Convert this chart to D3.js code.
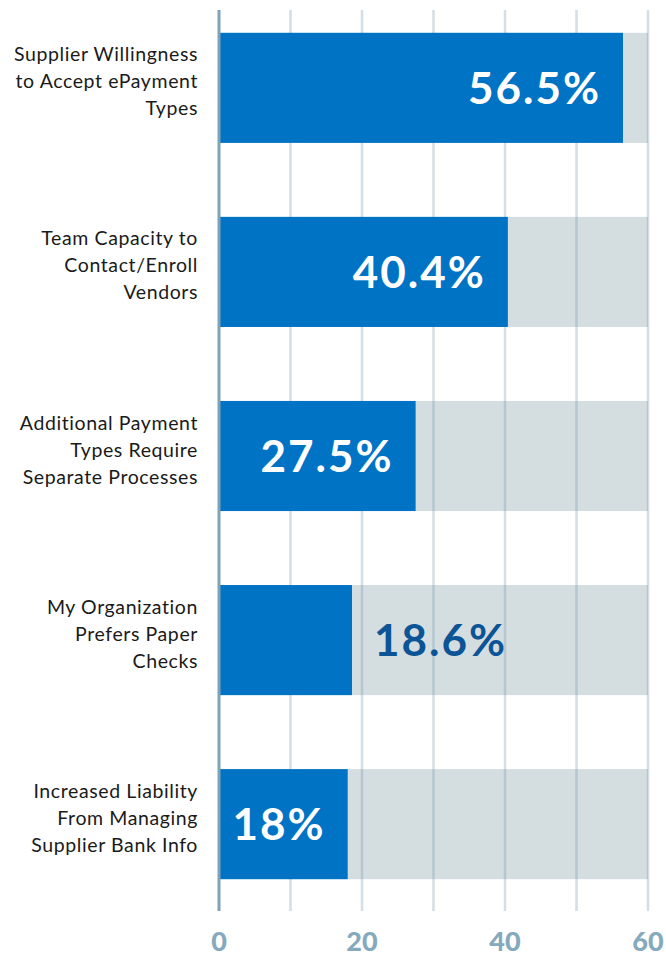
<!DOCTYPE html>
<html><head><meta charset="utf-8">
<script src="https://cdn.jsdelivr.net/npm/d3@7"></script>
<style>body{margin:0;background:#fff}</style>
</head><body>
<svg id="c" width="666" height="956"></svg>
<script>
const categories = [
  ["Supplier Willingness","to Accept ePayment","Types"],
  ["Team Capacity to","Contact/Enroll","Vendors"],
  ["Additional Payment","Types Require","Separate Processes"],
  ["My Organization","Prefers Paper","Checks"],
  ["Increased Liability","From Managing","Supplier Bank Info"]
];
const values = [56.5, 40.4, 27.5, 18.6, 18];
const valueLabels = ["56.5%","40.4%","27.5%","18.6%","18%"];
const labelInside = [true, true, true, false, true];
const maxValue = 60;
const tickValues = [0, 20, 40, 60];
const gridValues = [0,10,20,30,40,50,60];

const svg = d3.select("#c");
const x = d3.scaleLinear().domain([0, maxValue]).range([219, 648]);
const y = d3.scaleBand().domain(d3.range(values.length)).range([-4, 916]).paddingInner(0.402).paddingOuter(0.2);

// background bars
svg.selectAll("rect.bg").data(values).join("rect")
  .attr("x", x(0)).attr("y", (d,i)=>y(i)).attr("width", x(maxValue)-x(0)).attr("height", y.bandwidth())
  .attr("fill", "#d4dde0");

// gridlines
svg.selectAll("line.grid").data(gridValues.slice(1)).join("line")
  .attr("x1", d=>x(d)).attr("x2", d=>x(d)).attr("y1", 10).attr("y2", 911)
  .attr("stroke", "rgba(120,155,178,0.33)").attr("stroke-width", 2.5);

// value bars
svg.selectAll("rect.bar").data(values).join("rect")
  .attr("x", x(0)).attr("y", (d,i)=>y(i)).attr("width", d=>x(d)-x(0)).attr("height", y.bandwidth())
  .attr("fill", "#0073c4");

// axis line
svg.append("line").attr("x1", x(0)).attr("x2", x(0)).attr("y1", 10).attr("y2", 911)
  .attr("stroke", "#7ea3b9").attr("stroke-width", 3);

// value labels
svg.selectAll("text.val").data(values).join("text")
  .attr("x", (d,i)=> labelInside[i] ? x(d)-22 : x(d)+22)
  .attr("y", (d,i)=>y(i)+y.bandwidth()/2+16)
  .attr("text-anchor", (d,i)=> labelInside[i] ? "end" : "start")
  .attr("font-family", "Lato, sans-serif").attr("font-weight", 700).attr("font-size", 44)
  .attr("letter-spacing", 2)
  .attr("fill", (d,i)=> labelInside[i] ? "#ffffff" : "#0b5496")
  .text((d,i)=>valueLabels[i]);

// category labels
categories.forEach((lines, i) => {
  const cy = y(i) + y.bandwidth()/2;
  const t = svg.append("text").attr("text-anchor","end")
    .attr("font-family","Lato, sans-serif").attr("font-size",19.5).attr("letter-spacing",0.6).attr("fill","#1a1a1a");
  lines.forEach((ln, j) => {
    t.append("tspan").attr("x", 198).attr("y", cy + (j-1)*27 + 0.5).text(ln);
  });
});

// x tick labels
svg.selectAll("text.tick").data(tickValues).join("text")
  .attr("x", d=>x(d)).attr("y", 951).attr("text-anchor","middle")
  .attr("font-family","Lato, sans-serif").attr("font-weight",900).attr("font-size",27)
  .attr("fill","#85a9bd").text(d=>d);
</script>
</body></html>
